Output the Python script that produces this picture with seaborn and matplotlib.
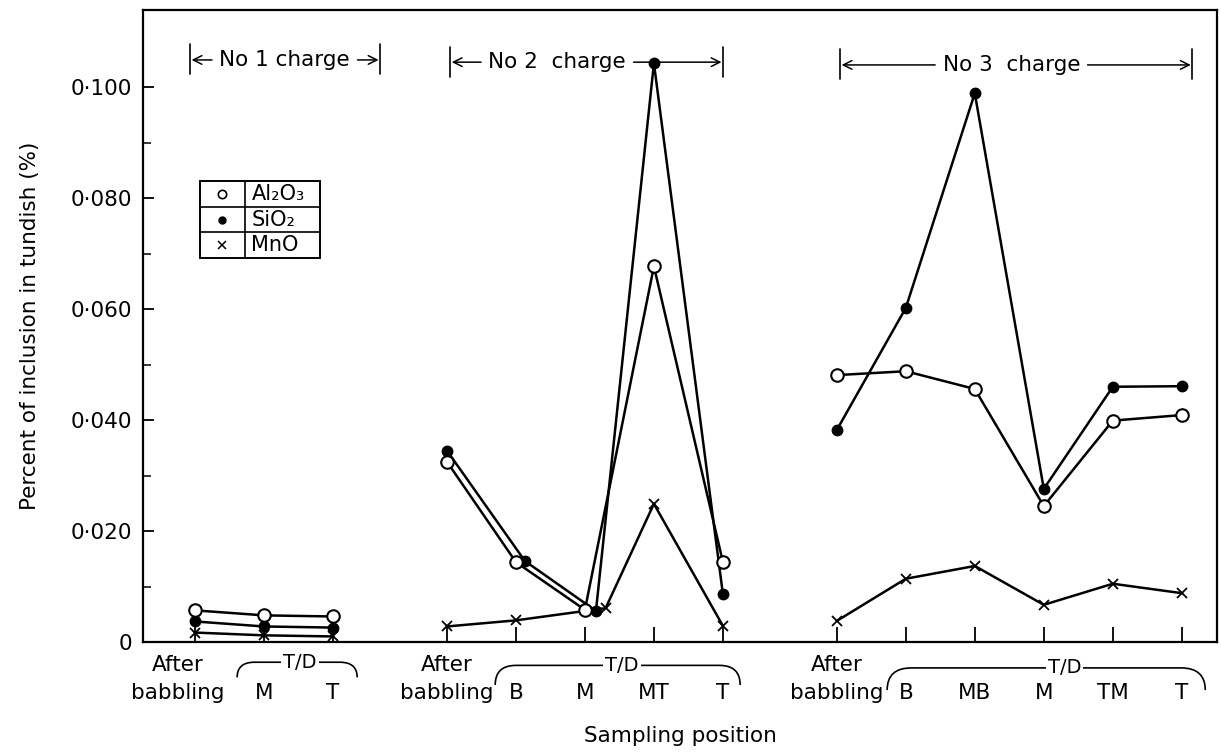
import matplotlib
matplotlib.use("Agg")
import matplotlib.pyplot as plt
from matplotlib.path import Path
from matplotlib.patches import PathPatch, Rectangle
from matplotlib.transforms import blended_transform_factory
from matplotlib.ticker import FixedLocator
import pandas as pd
import seaborn as sns

# ---- data: percent of inclusion in tundish --------------------------------
charges = ["No 1", "No 2", "No 3"]

labels_no1 = ["After\nbabbling", "M", "T"]
labels_no2 = ["After\nbabbling", "B", "M", "MT", "T"]
labels_no3 = ["After\nbabbling", "B", "MB", "M", "TM", "T"]

al2o3_no1 = [0.0057, 0.0048, 0.0046]
sio2_no1 = [0.0037, 0.0028, 0.0026]
mno_no1 = [0.0017, 0.0012, 0.0010]

al2o3_no2 = [0.0325, 0.0144, 0.0058, 0.0677, 0.0144]
sio2_no2 = [0.0345, 0.0146, 0.0056, 0.1043, 0.0086]
mno_no2 = [0.0028, 0.0039, 0.0061, 0.0249, 0.0029]

al2o3_no3 = [0.0481, 0.0488, 0.0456, 0.0245, 0.0399, 0.0409]
sio2_no3 = [0.0382, 0.0602, 0.0989, 0.0276, 0.0460, 0.0461]
mno_no3 = [0.0038, 0.0114, 0.0137, 0.0067, 0.0105, 0.0088]

yticks = [0, 0.02, 0.04, 0.06, 0.08, 0.10]
ytick_labels = ["0", "0·020", "0·040", "0·060", "0·080", "0·100"]

# ---- layout of the sampling axis --------------------------------------------
pos_no1 = [0.0, 1.0, 2.0]
pos_no2 = [3.65, 4.65, 5.65, 6.65, 7.65]
pos_no3 = [9.3, 10.3, 11.3, 12.3, 13.3, 14.3]

# small sideways shifts so crowded points of No 2 stay readable
nudge = {("SiO2", "No 2"): [0, 0.13, 0.16, 0, 0],
         ("MnO", "No 2"): [0, 0, 0.30, 0, 0]}

series = {
    "Al2O3": [al2o3_no1, al2o3_no2, al2o3_no3],
    "SiO2": [sio2_no1, sio2_no2, sio2_no3],
    "MnO": [mno_no1, mno_no2, mno_no3],
}
positions = [pos_no1, pos_no2, pos_no3]

rows = []
for name, per_charge in series.items():
    for ch, pos, vals in zip(charges, positions, per_charge):
        shift = nudge.get((name, ch), [0] * len(pos))
        for p, s, v in zip(pos, shift, vals):
            rows.append({"series": name, "charge": ch, "pos": p + s, "value": v})
df = pd.DataFrame(rows)

# ---- styling ----------------------------------------------------------------
sns.set_theme(style="ticks")
plt.rcParams["font.family"] = ["DejaVu Sans"]
plt.rcParams.update({"axes.linewidth": 1.6, "text.color": "black",
                     "axes.labelcolor": "black", "xtick.color": "black",
                     "ytick.color": "black"})

fig = plt.figure(figsize=(12.21, 7.54), dpi=100)
ax = fig.add_axes([143 / 1221, 1 - 642 / 754, (1217 - 143) / 1221, (642 - 10) / 754])

marker_style = {
    "Al2O3": dict(marker="o", markersize=9, markerfacecolor="white",
                  markeredgecolor="black", markeredgewidth=1.5),
    "SiO2": dict(marker="o", markersize=7.5, markerfacecolor="black",
                 markeredgecolor="black", markeredgewidth=1.0),
    "MnO": dict(marker="x", markersize=7, markerfacecolor="black",
                markeredgecolor="black", markeredgewidth=1.3),
}

for name in ["MnO", "SiO2", "Al2O3"]:
    sns.lineplot(data=df[df["series"] == name], x="pos", y="value",
                 units="charge", estimator=None, sort=False,
                 color="black", linewidth=1.8, legend=False, ax=ax,
                 **marker_style[name])

ax.set_xlim(-0.754, 14.81)
ax.set_ylim(0, 0.1139)

all_pos = pos_no1 + pos_no2 + pos_no3
all_labels = labels_no1 + labels_no2 + labels_no3
ax.set_xticks(all_pos)
ax.set_xticklabels([""] * len(all_pos))
ax.set_yticks(yticks)
ax.set_yticklabels(ytick_labels, fontsize=15.5)
ax.yaxis.set_minor_locator(FixedLocator([0.01, 0.03, 0.05, 0.07, 0.09]))
ax.tick_params(axis="x", direction="in", length=11, width=1.3)
ax.tick_params(axis="y", which="major", direction="in", length=8, width=1.3, pad=8)
ax.tick_params(axis="y", which="minor", direction="in", length=6, width=1.1)
for sp in ax.spines.values():
    sp.set_visible(True)
    sp.set_color("black")

trans = blended_transform_factory(ax.transData, ax.transAxes)

# sampling-position names: two-line names start on the upper row,
# single letters sit on the lower row beneath the T/D brackets
label_shift = {0: -0.25}
for i, (p, lab) in enumerate(zip(all_pos, all_labels)):
    xp = p + label_shift.get(i, 0)
    if "\n" in lab:
        top, bottom = lab.split("\n")
        ax.text(xp, -0.037, top, transform=trans, ha="center", va="center", fontsize=15.5)
        ax.text(xp, -0.080, bottom, transform=trans, ha="center", va="center", fontsize=15.5)
    else:
        ax.text(xp, -0.080, lab, transform=trans, ha="center", va="center", fontsize=15.5)

ax.set_xlabel("Sampling position", fontsize=15.5, va="center")
ax.xaxis.set_label_coords(0.5, -0.149)
ax.set_ylabel("Percent of inclusion in tundish (%)", fontsize=15.5, labelpad=22)

# ---- charge spans along the top -------------------------------------------
def charge_span(x_left, x_right, x_text, y, label):
    for xb in (x_left, x_right):
        ax.plot([xb, xb], [y - 0.0026, y + 0.0028], color="black", lw=1.2, clip_on=False)
    for xb, visible in ((x_left, True), (x_right, False)):
        ax.annotate(label, xy=(xb, y), xytext=(x_text, y), ha="center", va="center",
                    fontsize=15.5, color="black" if visible else "none",
                    arrowprops=dict(arrowstyle="->", lw=1.1, color="black",
                                    shrinkA=3, shrinkB=1))

charge_span(-0.07, 2.68, 1.30, 0.1049, "No 1 charge")
charge_span(3.70, 7.65, 5.25, 0.1045, "No 2  charge")
charge_span(9.35, 14.45, 11.83, 0.1040, "No 3  charge")

# ---- T/D brackets under the sampling labels -------------------------------
def td_bracket(x_left, x_right, x_text, y_top, y_end, curl):
    verts = [(x_left, y_end), (x_left, y_top), (x_left + curl, y_top),
             (x_right - curl, y_top), (x_right, y_top), (x_right, y_end)]
    codes = [Path.MOVETO, Path.CURVE3, Path.CURVE3,
             Path.LINETO, Path.CURVE3, Path.CURVE3]
    ax.add_patch(PathPatch(Path(verts, codes), transform=trans, fill=False,
                           lw=1.2, edgecolor="black", clip_on=False))
    ax.text(x_text, y_top, "T/D", transform=trans, ha="center", va="center",
            fontsize=14, bbox=dict(facecolor="white", edgecolor="none", pad=1.5),
            clip_on=False)

td_bracket(0.61, 2.35, 1.52, -0.032, -0.056, 0.25)
td_bracket(4.35, 7.90, 6.19, -0.037, -0.068, 0.3)
td_bracket(10.03, 14.64, 12.6, -0.041, -0.076, 0.35)

# ---- legend drawn as a small table ----------------------------------------
x0, xm, x1 = 0.053, 0.095, 0.165
ys = [0.7294, 0.6883, 0.6487, 0.6076]
ax.add_patch(Rectangle((x0, ys[-1]), x1 - x0, ys[0] - ys[-1], transform=ax.transAxes,
                       fill=False, edgecolor="black", lw=1.4))
for yy in ys[1:-1]:
    ax.plot([x0, x1], [yy, yy], transform=ax.transAxes, color="black", lw=1.2)
ax.plot([xm, xm], [ys[-1], ys[0]], transform=ax.transAxes, color="black", lw=1.2)
legend_text = ["Al₂O₃", "SiO₂", "MnO"]
legend_style = {
    "Al2O3": dict(marker="o", markersize=6, markerfacecolor="white",
                  markeredgecolor="black", markeredgewidth=1.2),
    "SiO2": dict(marker="o", markersize=5, markerfacecolor="black",
                 markeredgecolor="black", markeredgewidth=1.0),
    "MnO": dict(marker="x", markersize=6, markeredgecolor="black",
                markeredgewidth=1.1),
}
for i, (name, txt) in enumerate(zip(["Al2O3", "SiO2", "MnO"], legend_text)):
    yc = (ys[i] + ys[i + 1]) / 2
    ax.plot([(x0 + xm) / 2], [yc], transform=ax.transAxes, linestyle="none",
            color="black", **legend_style[name])
    ax.text(xm + 0.006, yc, txt, transform=ax.transAxes, ha="left", va="center",
            fontsize=15)

fig.savefig("out.png", dpi=100, facecolor="white")
